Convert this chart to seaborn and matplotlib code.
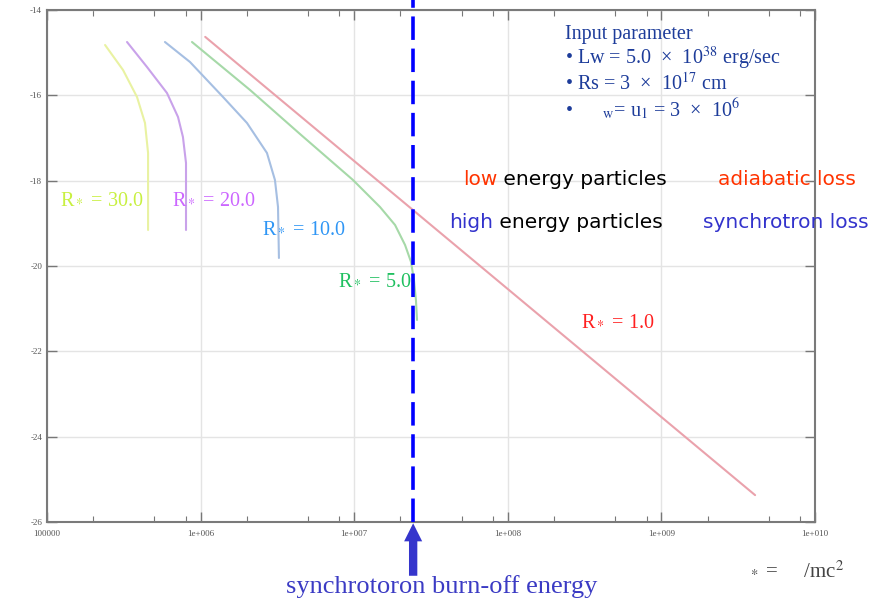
import matplotlib.pyplot as plt
import numpy as np
import pandas as pd
import seaborn as sns
from matplotlib.ticker import FixedLocator, LogLocator, NullFormatter


# Wartosci: log10(energia) i log10(N) dla kazdej krzywej
r1_logx = [6.03, 9.61]
r1_logn = [-14.63, -25.37]

r5_logx = [5.944, 6.322, 6.647, 6.992, 7.168, 7.266, 7.331, 7.370, 7.389, 7.402, 7.409]
r5_logn = [-14.75, -15.875, -16.906, -17.984, -18.617, -19.039, -19.507, -19.906, -20.328, -20.797, -21.265]

r10_logx = [5.768, 5.931, 6.146, 6.302, 6.432, 6.484, 6.504, 6.510]
r10_logn = [-14.75, -15.219, -16.039, -16.648, -17.351, -17.984, -18.617, -19.812]

r20_logx = [5.521, 5.651, 5.781, 5.853, 5.885, 5.905, 5.905]
r20_logn = [-14.75, -15.336, -15.945, -16.508, -16.976, -17.586, -19.156]

r30_logx = [5.378, 5.495, 5.586, 5.638, 5.658, 5.658]
r30_logn = [-14.82, -15.406, -16.039, -16.648, -17.351, -19.156]

curve_names = ["R1", "R5", "R10", "R20", "R30"]
curve_colors = ["#eaa2ac", "#a6d9a8", "#a6bfe2", "#c9a2ea", "#e9f2a2"]

label_texts = ["R$_*$ = 1.0", "R$_*$ = 5.0", "R$_*$ = 10.0", "R$_*$ = 20.0", "R$_*$ = 30.0"]
label_colors = ["#ff2020", "#20c060", "#2f96f5", "#cc66ff", "#c8f040"]
label_x = [3.0e8, 7.85e6, 2.5e6, 6.5e5, 1.22e5]
label_y = [-21.29, -20.35, -19.13, -18.45, -18.45]

x_ticks = [1e5, 1e6, 1e7, 1e8, 1e9, 1e10]
x_tick_labels = ["100000", "1e+006", "1e+007", "1e+008", "1e+009", "1e+010"]
y_ticks = [-26, -24, -22, -20, -18, -16, -14]
y_tick_labels = ["-26", "-24", "-22", "-20", "-18", "-16", "-14"]

burn_off_energy = 2.42e7

input_lines = [
    "Input parameter",
    "• Lw = 5.0  ×  10$^{38}$ erg/sec",
    "• Rs = 3  ×  10$^{17}$ cm",
    "•      $_{\\rm w}$= u$_1$ = 3  ×  10$^6$",
]


# Tabela dla seaborn
parts = []
for name, lx, ln in [
    ("R1", r1_logx, r1_logn),
    ("R5", r5_logx, r5_logn),
    ("R10", r10_logx, r10_logn),
    ("R20", r20_logx, r20_logn),
    ("R30", r30_logx, r30_logn),
]:
    parts.append(pd.DataFrame({"curve": name, "energy": np.power(10.0, lx), "logN": ln}))
df = pd.concat(parts, ignore_index=True)


sns.set_theme(style="ticks")
plt.rcParams["font.family"] = ["Liberation Serif", "DejaVu Sans"]
plt.rcParams["mathtext.fontset"] = "stix"

fig = plt.figure(figsize=(8.73, 6.0), dpi=100)
ax = fig.add_axes([47 / 873, 1 - 522 / 600, 768 / 873, 512 / 600])
ax.set_xscale("log")

sns.lineplot(
    data=df,
    x="energy",
    y="logN",
    hue="curve",
    hue_order=curve_names,
    palette=curve_colors,
    estimator=None,
    sort=False,
    legend=False,
    linewidth=1.5,
    ax=ax,
)

ax.set_xlim(1e5, 1e10)
ax.set_ylim(-26, -14)
ax.set_xlabel("")
ax.set_ylabel("")

ax.xaxis.set_major_locator(FixedLocator(x_ticks))
ax.set_xticklabels(x_tick_labels)
ax.xaxis.set_minor_locator(LogLocator(base=10, subs=[2, 5, 8]))
ax.xaxis.set_minor_formatter(NullFormatter())
ax.set_yticks(y_ticks)
ax.set_yticklabels(y_tick_labels)

ax.tick_params(which="both", direction="in", top=True, right=True, color="#777777",
               labelsize=6.5, labelcolor="#555555")
ax.tick_params(which="major", length=7, width=1)
ax.tick_params(which="minor", length=4, width=0.8)
ax.tick_params(axis="x", pad=6)
ax.grid(True, which="major", color="#e4e4e4", linewidth=1)
for spine in ax.spines.values():
    spine.set_color("#7a7a7a")
    spine.set_linewidth(1.5)

# Linia energii "burn-off"
ax.axvline(burn_off_energy, ymin=0, ymax=1.02, color="#0000ff", linewidth=2.6,
           linestyle=(0, (6.5, 2.4)), clip_on=False, zorder=5)

ax.annotate("", xy=(burn_off_energy, -26.03), xytext=(burn_off_energy, -27.26),
            arrowprops=dict(width=6, headwidth=13, headlength=13, color="#3535cc", lw=0),
            annotation_clip=False)

# Podpisy krzywych
for text, color, x, y in zip(label_texts, label_colors, label_x, label_y):
    ax.text(x, y, text, color=color, fontsize=14.5, ha="left", va="center")

# Parametry wejsciowe
for i, line in enumerate(input_lines):
    ax.text(0.6745, 0.953 - i * 0.0485, line, transform=ax.transAxes, color="#1d3c9a",
            fontsize=14.5, ha="left", va="center")

# Opisy czastek
sans = ["DejaVu Sans"]
t1 = ax.text(0.5417, 0.668, "low", transform=ax.transAxes, color="#ff3300",
             fontsize=14.5, family=sans, ha="left", va="center")
ax.annotate(" energy particles", xy=(1, 0), xycoords=t1, color="black",
            fontsize=14.5, family=sans, ha="left", va="bottom")
t2 = ax.text(0.5234, 0.584, "high", transform=ax.transAxes, color="#3333cc",
             fontsize=14.5, family=sans, ha="left", va="center")
ax.annotate(" energy particles", xy=(1, 0), xycoords=t2, color="black",
            fontsize=14.5, family=sans, ha="left", va="bottom")
ax.text(0.8737, 0.668, "adiabatic loss", transform=ax.transAxes, color="#ff3300",
        fontsize=14.5, family=sans, ha="left", va="center")
ax.text(0.854, 0.584, "synchrotron loss", transform=ax.transAxes, color="#3333cc",
        fontsize=14.5, family=sans, ha="left", va="center")

fig.text(0.506, 0.022, "synchrotoron burn-off energy", color="#3b3bc4",
         fontsize=19, ha="center", va="center")
fig.text(0.857, 0.05, "$_*$ =     /mc$^2$", color="#444444",
         fontsize=15, ha="left", va="center")

fig.savefig("out.png", dpi=100)
plt.close(fig)
